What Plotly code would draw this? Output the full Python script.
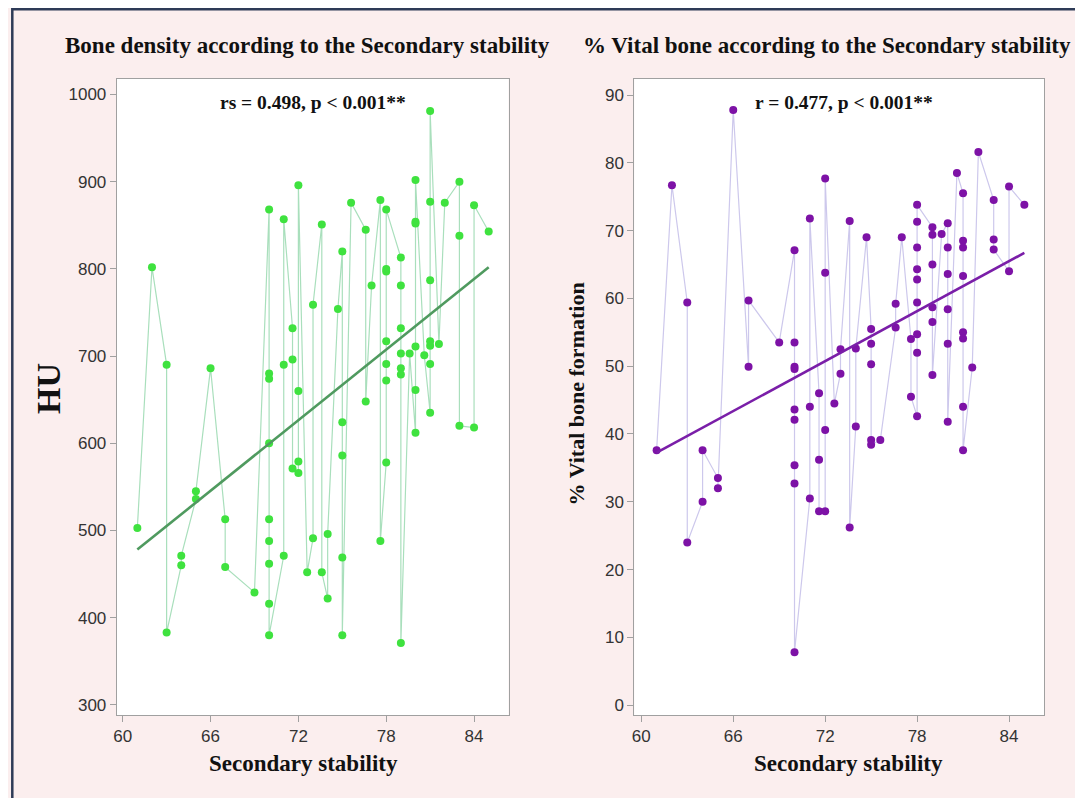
import plotly.graph_objects as go

# The page body adds an 8px margin, so the figure is drawn 8px smaller and
# all layout positions below are given in screen pixels and shifted.
OFF = 8
W, H = 1083 - OFF, 798 - OFF

# ---------------- data (in worksheet / connection order) ----------------
stab_left = [61, 62, 63, 63, 64, 64, 65, 65, 66, 67, 67, 69,
             70, 70, 70, 70, 70, 70, 70, 70, 70,
             71, 71, 71, 71.6, 71.6, 71.6, 72, 72, 72, 72, 72.6,
             73, 73, 73.6, 73.6, 74, 74, 74.7,
             75, 75, 75, 75, 75, 75.6, 76.6, 76.6, 77, 77.6, 77.6,
             78, 78, 78, 78, 78, 78, 78,
             79, 79, 79, 79, 79, 79, 79, 79.6,
             80, 80, 80, 80, 80, 80, 80.6,
             81, 81, 81, 81, 81, 81, 81, 81.6, 82,
             83, 83, 83, 84, 84, 85]
hu = [503, 802, 690, 383, 460, 471, 536, 545, 686, 513, 458, 429,
      868, 680, 674, 600, 513, 488, 462, 416, 380,
      471, 690, 857, 732, 696, 571, 566, 579, 660, 896, 452,
      491, 759, 851, 452, 422, 496, 754,
      820, 624, 586, 469, 380, 876, 845, 648, 781, 879, 488,
      578, 672, 691, 717, 797, 800, 868,
      813, 781, 732, 703, 686, 679, 371, 703,
      612, 661, 711, 852, 854, 902, 701,
      635, 691, 712, 717, 787, 877, 981, 714, 876,
      900, 838, 620, 618, 873, 843]

stab_right = [61, 62, 63, 63, 64, 64, 65, 65, 66, 67, 67, 69,
              70, 70, 70, 70, 70, 70, 70, 70, 70,
              71, 71, 71, 71.6, 71.6, 71.6, 72, 72, 72, 72, 72.6,
              73, 73, 73.6, 73.6, 74, 74, 74.7,
              75, 75, 75, 75, 75, 75.6, 76.6, 76.6, 77, 77.6, 77.6,
              78, 78, 78, 78, 78, 78, 78, 78, 78,
              79, 79, 79, 79, 79, 79, 79.6,
              80, 80, 80, 80, 80, 80, 80.6,
              81, 81, 81, 81, 81, 81, 81, 81, 81.6, 82,
              83, 83, 83, 84, 84, 85]
vital = [37.6, 76.7, 59.4, 24.0, 30.0, 37.6, 33.5, 32.0, 87.8, 49.9, 59.7, 53.5,
         67.1, 53.5, 49.9, 49.6, 43.6, 42.1, 35.4, 32.7, 7.8,
         30.5, 44.0, 71.8, 46.0, 36.2, 28.6, 28.6, 40.6, 63.8, 77.7, 44.5,
         48.9, 52.5, 71.4, 26.2, 41.1, 52.6, 69.0,
         55.5, 53.3, 50.3, 39.1, 38.4, 39.1, 55.7, 59.2, 69.0, 54.0, 45.5,
         42.6, 52.0, 54.7, 59.4, 62.8, 64.3, 67.5, 71.3, 73.8,
         70.5, 69.4, 65.0, 58.7, 56.5, 48.7, 69.5,
         71.1, 67.5, 63.6, 58.4, 53.3, 41.8, 78.5,
         75.5, 68.5, 67.5, 63.3, 55.0, 54.1, 44.0, 37.6, 49.8, 81.6,
         74.5, 68.7, 67.2, 64.0, 76.5, 73.8]

# fitted regression lines (slope, intercept)
fit_left = (13.49, -344.8)
fit_right = (1.228, -37.67)
fit_range = [61, 85]

x_ticks = [60, 66, 72, 78, 84]
hu_ticks = [300, 400, 500, 600, 700, 800, 900, 1000]
vital_ticks = [0, 10, 20, 30, 40, 50, 60, 70, 80, 90]

titles = ["Bone density according to the Secondary stability",
          "% Vital bone according to the Secondary stability"]
stats = ["rs = 0.498, p < 0.001**", "r = 0.477, p < 0.001**"]
x_title = "Secondary stability"
y_titles = ["HU", "% Vital bone formation"]

# ---------------- styling ----------------
PINK = "#fbeeee"
SERIF = "Liberation Serif"
TICKFONT = dict(family="Liberation Sans Narrow, Liberation Sans, sans-serif", size=17, color="#333333")


def px_x(p):
    return (p - OFF) / W


def px_y(p):
    return 1 - (p - OFF) / H


fig = go.Figure()

# Left panel
fig.add_trace(go.Scatter(x=stab_left, y=hu, mode="lines+markers",
                         line=dict(color="#a9dfbc", width=1.2),
                         marker=dict(color="#3fe23f", size=8, symbol="circle"),
                         xaxis="x", yaxis="y", showlegend=False))
fig.add_trace(go.Scatter(x=fit_range, y=[fit_left[0] * v + fit_left[1] for v in fit_range],
                         mode="lines", line=dict(color="#4f9a5f", width=2.6),
                         xaxis="x", yaxis="y", showlegend=False))

# Right panel
fig.add_trace(go.Scatter(x=stab_right, y=vital, mode="lines+markers",
                         line=dict(color="#cdc8ec", width=1.2),
                         marker=dict(color="#7d12a6", size=8, symbol="circle"),
                         xaxis="x2", yaxis="y2", showlegend=False))
fig.add_trace(go.Scatter(x=fit_range, y=[fit_right[0] * v + fit_right[1] for v in fit_range],
                         mode="lines", line=dict(color="#7a1ea8", width=2.6),
                         xaxis="x2", yaxis="y2", showlegend=False))

axis_common = dict(showline=True, mirror=True, linecolor="#a0a0a0", linewidth=1,
                   ticks="outside", ticklen=6, tickcolor="#a0a0a0", tickwidth=1,
                   showgrid=False, zeroline=False, tickfont=TICKFONT)

ydom = [px_y(715), px_y(79)]

fig.update_layout(
    width=W, height=H,
    paper_bgcolor=PINK, plot_bgcolor="white",
    margin=dict(l=0, r=0, t=0, b=0),
    xaxis=dict(domain=[px_x(114), px_x(507)], range=[59.59, 86.36], tickvals=x_ticks,
               anchor="y", **axis_common),
    yaxis=dict(domain=ydom, range=[288.4, 1017.8], tickvals=hu_ticks, anchor="x",
               **axis_common),
    xaxis2=dict(domain=[px_x(633), px_x(1044)], range=[59.54, 86.29], tickvals=x_ticks,
                anchor="y2", **axis_common),
    yaxis2=dict(domain=ydom, range=[-1.45, 92.36], tickvals=vital_ticks, anchor="x2",
                **axis_common),
)


def label(text, x, y, font, anchor="center", angle=0):
    fig.add_annotation(text="<b>" + text + "</b>", x=px_x(x), y=px_y(y), xref="paper", yref="paper",
                       xanchor=anchor, yanchor="middle", showarrow=False, font=font, textangle=angle)


TFONT = dict(family=SERIF, size=23, color="#111")
SFONT = dict(family=SERIF, size=19.5, color="#111")
XFONT = dict(family=SERIF, size=23, color="#111")

label(titles[0], 305, 45, TFONT)
label(titles[1], 580, 45, TFONT, anchor="left")
label(stats[0], 311, 103, SFONT)
label(stats[1], 843, 103, SFONT)
label(x_title, 301, 763, XFONT)
label(x_title, 848, 763, XFONT)
label(y_titles[0], 45, 388, dict(family=SERIF, size=34, color="#111"), angle=-90)
label(y_titles[1], 576, 394, dict(family=SERIF, size=22, color="#111"), angle=-90)

# outer frame of the figure
fig.add_shape(type="rect", xref="paper", yref="paper",
              x0=px_x(9.3), x1=px_x(1100), y0=px_y(820), y1=px_y(9.3),
              line=dict(color="#2e3b57", width=2.5), fillcolor="rgba(0,0,0,0)", layer="above")

fig.write_html("out.html")
